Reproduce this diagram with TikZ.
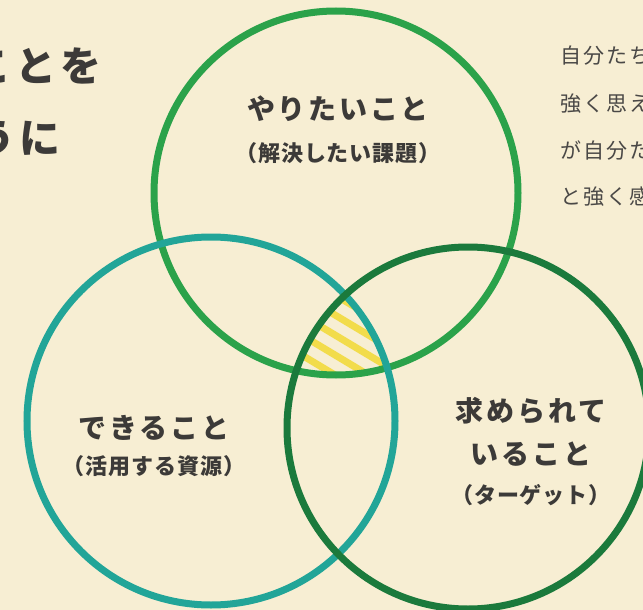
\documentclass[tikz,border=0pt]{standalone}
\usepackage{fontspec}
\newfontfamily\jp{Noto Sans CJK JP}
\definecolor{bg}{HTML}{F7EED3}
\definecolor{cgreen}{HTML}{2BA24A}
\definecolor{cteal}{HTML}{22A598}
\definecolor{cdark}{HTML}{1B7A3C}
\definecolor{stripeyellow}{HTML}{F2DC4B}
\definecolor{ink}{HTML}{3C3A38}
\definecolor{ink2}{HTML}{4A4846}
\tikzset{
  ring/.style={circle, inner sep=0pt, line width=7pt, draw=#1},
  stripeline/.style={stripeyellow, line width=7pt},
  mainlabel/.style={text=ink, inner sep=0pt, font=\jp\bfseries\fontsize{28}{32}\selectfont\addfontfeature{LetterSpace=10}},
  sublabel/.style={text=ink, inner sep=0pt, font=\jp\bfseries\fontsize{22}{26}\selectfont\addfontfeature{LetterSpace=4}},
  bigtext/.style={text=ink, inner sep=0pt, anchor=west, font=\jp\bfseries\fontsize{41}{44}\selectfont\addfontfeature{LetterSpace=10}},
  bodytext/.style={text=ink2, inner sep=0pt, anchor=west, font=\jp\fontsize{21}{24}\selectfont\addfontfeature{LetterSpace=10}}
}
\begin{document}
\begin{tikzpicture}[x=1pt,y=-1pt]
\fill[bg] (0,0) rectangle (643,610);
\useasboundingbox (0,0) rectangle (643,610);
\clip (0,0) rectangle (643,610);
% hatched common area
\begin{scope}
  \clip (336,193) circle[radius=182pt];
  \clip (211,421) circle[radius=184pt];
  \clip (468,428) circle[radius=181pt];
  \foreach \k in {-6,...,8} \draw[stripeline] (250,264+\k*20) -- ++(200,120);
\end{scope}
% circles
\node[ring=cgreen, minimum size=364pt] (top) at (336,193) {};
\node[ring=cteal, minimum size=368pt] (left) at (211,421) {};
\node[ring=cdark, minimum size=362pt] (right) at (468,428) {};
% labels
\node[mainlabel] (want) at (338,109) {やりたいこと};
\node[sublabel] (wantsub) at (338,153) {（解決したい課題）};
\node[mainlabel] (can) at (154,428) {できること};
\node[sublabel] (cansub) at (154,466) {（活用する資源）};
\node[mainlabel] (need1) at (531,411) {求められて};
\node[mainlabel] (need2) at (531,454) {いること};
\node[sublabel] (needsub) at (531,495) {（ターゲット）};
% clipped side texts
\node[bigtext] (l1) at (-30,66) {ことを};
\node[bigtext] (l2) at (-26,138) {うに};
\node[bodytext] (r1) at (560,56) {自分たち};
\node[bodytext] (r2) at (560,104) {強く思え};
\node[bodytext] (r3) at (560,151) {が自分た};
\node[bodytext] (r4) at (560,197) {と強く感};
\end{tikzpicture}
\end{document}
